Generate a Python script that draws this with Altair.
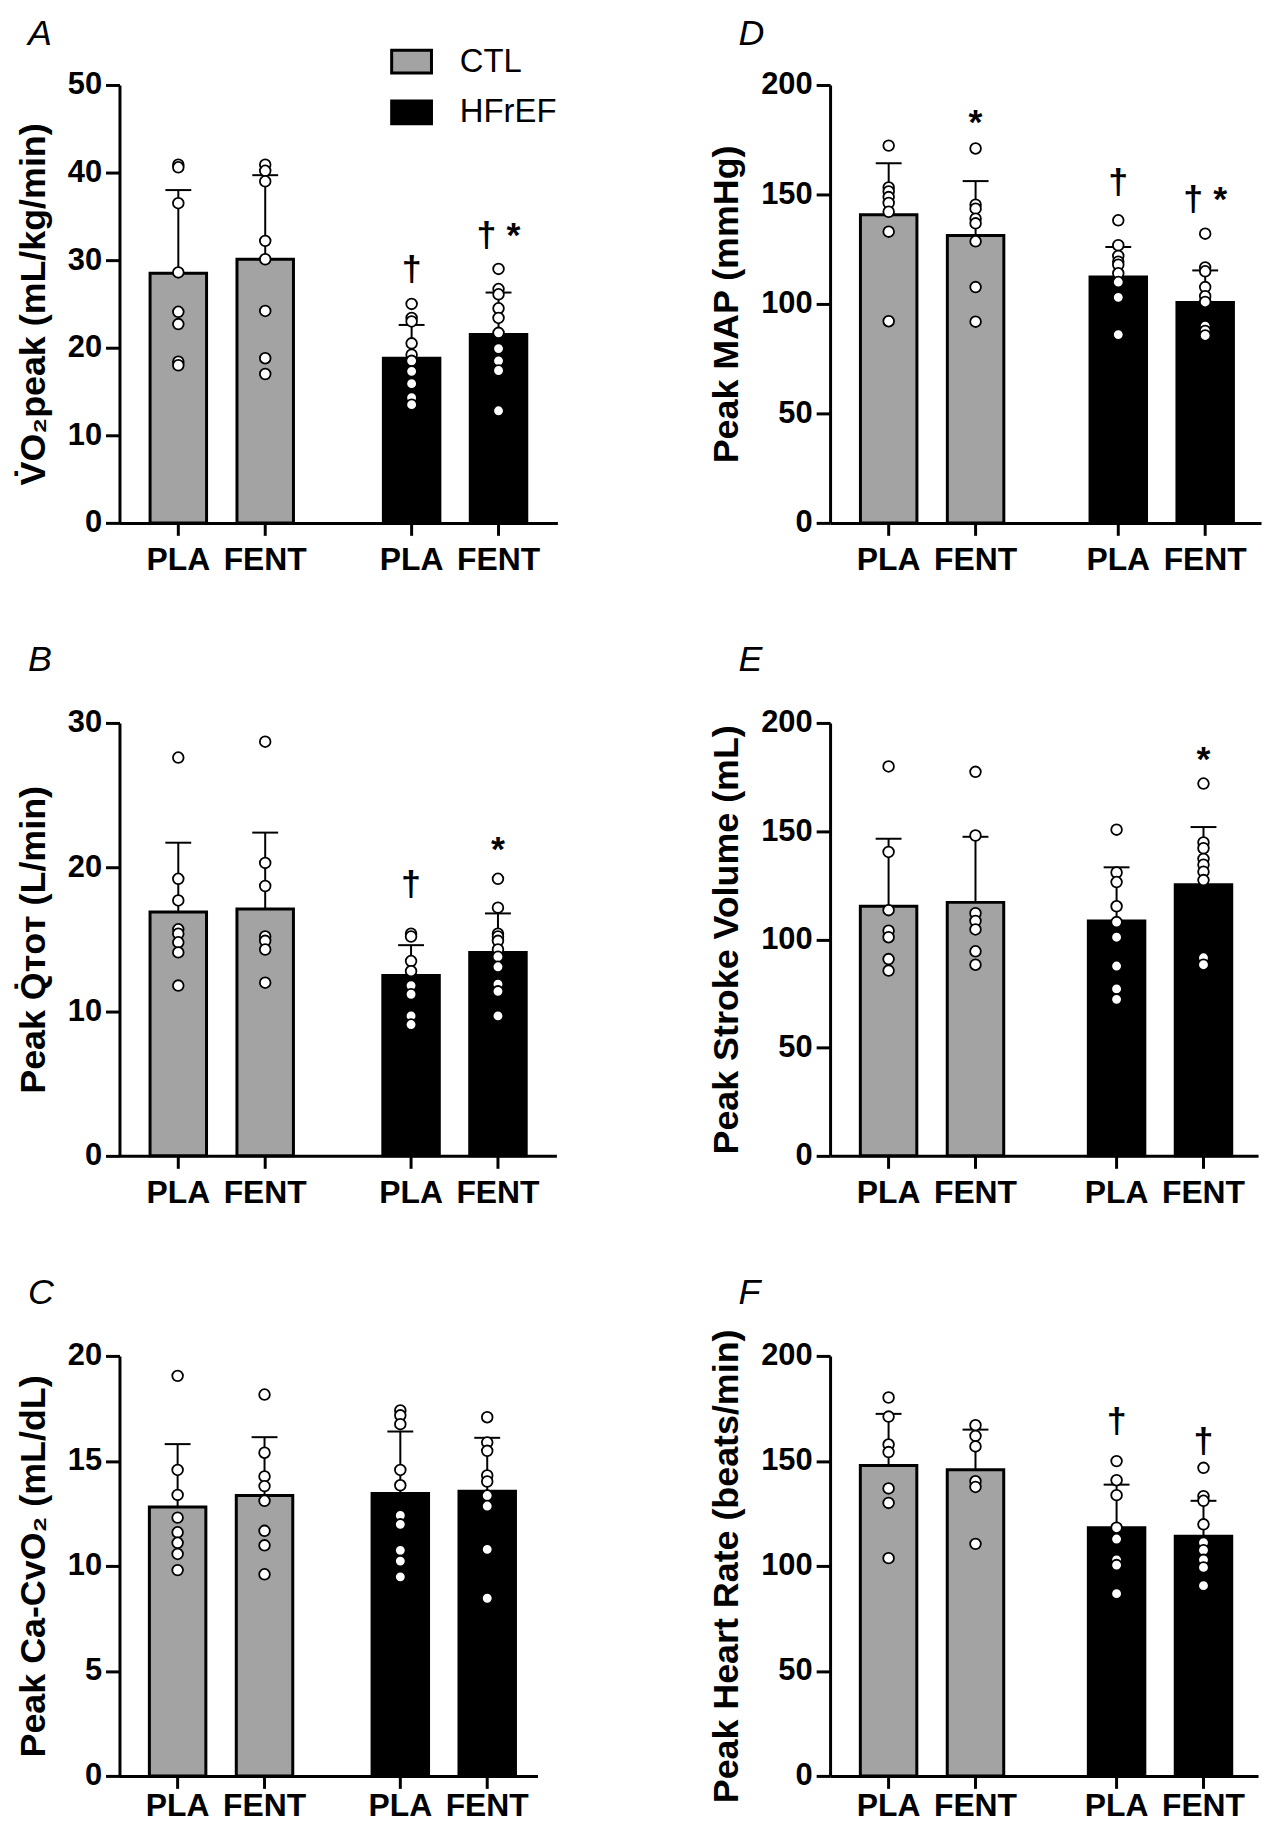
import altair as alt
import pandas as pd

FONT = "Liberation Sans"
GROUPS = ["CTL", "HFrEF"]
CONDS = ["PLA", "FENT"]
GROUP_COLORS = ["#a3a3a3", "#000000"]

# cell order: CTL-PLA, CTL-FENT, HFrEF-PLA, HFrEF-FENT
cell_group = ["CTL", "CTL", "HFrEF", "HFrEF"]
cell_cond = ["PLA", "FENT", "PLA", "FENT"]

# ---- A: VO2peak ----
vo2_mean = [28.5, 30.1, 18.8, 21.5]
vo2_sd = [9.5, 9.6, 3.8, 4.8]
vo2_points = [
    [40.9, 40.6, 36.5, 28.6, 24.1, 22.7, 18.4, 18.0],
    [40.9, 40.2, 39.0, 32.2, 30.1, 24.2, 18.8, 17.0],
    [25.0, 23.4, 23.0, 20.5, 19.2, 18.5, 17.3, 15.9, 14.3, 13.5],
    [29.0, 26.7, 26.1, 24.5, 23.4, 21.7, 19.9, 18.5, 17.4, 12.8],
]
vo2_marks = [("HFrEF", "PLA", "†", 28.9), ("HFrEF", "FENT", "† *", 32.8)]

# ---- D: MAP ----
map_mean = [140.7, 131.2, 112.3, 100.7]
map_sd = [23.5, 24.9, 13.7, 14.6]
map_points = [
    [172.3, 153.2, 151.4, 148.8, 146.1, 142.1, 133.0, 92.1],
    [171.0, 145.3, 143.5, 138.9, 136.8, 128.6, 107.7, 91.9],
    [138.2, 126.8, 121.9, 119.3, 117.9, 114.0, 110.0, 103.0, 86.0],
    [132.1, 116.7, 114.9, 107.7, 103.5, 100.9, 89.8, 87.7, 85.6],
]
map_marks = [("CTL", "FENT", "*", 187.2), ("HFrEF", "PLA", "†", 155.0), ("HFrEF", "FENT", "† *", 147.5)]

# ---- B: Q TOT ----
q_mean = [16.9, 17.1, 12.5, 14.1]
q_sd = [4.8, 5.3, 2.1, 2.7]
q_points = [
    [27.6, 19.2, 17.7, 15.7, 15.4, 14.8, 14.1, 11.8],
    [28.7, 20.3, 18.7, 15.2, 14.9, 14.3, 12.0],
    [15.4, 15.2, 13.5, 12.8, 11.8, 11.2, 9.7, 9.1],
    [19.2, 17.2, 15.4, 15.2, 14.9, 14.3, 13.8, 13.1, 11.9, 11.4, 9.7],
]
q_marks = [("HFrEF", "PLA", "†", 18.75), ("HFrEF", "FENT", "*", 21.9)]

# ---- E: Stroke volume ----
sv_mean = [115.3, 117.1, 108.5, 125.2]
sv_sd = [31.2, 30.3, 24.8, 26.7]
sv_points = [
    [179.9, 140.4, 113.5, 104.0, 101.0, 90.9, 85.6],
    [177.4, 148.0, 112.1, 108.5, 104.6, 94.5, 88.3],
    [150.7, 130.9, 126.5, 115.3, 108.0, 101.0, 87.7, 77.1, 72.3],
    [172.0, 144.8, 142.1, 137.2, 134.5, 131.3, 127.4, 91.5, 88.3],
]
sv_marks = [("HFrEF", "FENT", "*", 187.4)]

# ---- C: Ca-CvO2 ----
cav_mean = [12.8, 13.35, 13.45, 13.55]
cav_sd = [3.0, 2.78, 2.95, 2.55]
cav_points = [
    [19.05, 14.57, 13.38, 12.3, 11.6, 11.1, 10.57, 9.8],
    [18.16, 15.39, 14.26, 13.8, 13.1, 11.67, 10.98, 9.6],
    [17.4, 17.17, 16.75, 14.57, 13.84, 12.4, 11.98, 10.74, 10.23, 9.48],
    [17.08, 15.88, 15.48, 14.31, 14.02, 13.35, 12.85, 10.79, 8.46],
]
cav_marks = []

# ---- F: Heart rate ----
hr_mean = [147.8, 145.8, 118.2, 114.1]
hr_sd = [24.6, 19.1, 20.5, 16.9]
hr_points = [
    [180.2, 171.1, 157.8, 154.2, 136.9, 130.0, 103.7],
    [167.0, 161.9, 156.9, 140.3, 137.6, 110.5],
    [149.9, 140.8, 133.7, 118.2, 112.8, 102.9, 100.4, 86.8],
    [146.7, 133.2, 131.0, 119.8, 111.1, 107.5, 102.9, 99.3, 90.6],
]
hr_marks = [("HFrEF", "PLA", "†", 168.5), ("HFrEF", "FENT", "†", 158.9)]


def panel(mean, sd, points, marks, ytitle, ymax, ystep, letter, width, height,
          letter_y, label_gap=47, legend=False):
    bars_df = pd.DataFrame({
        "group": cell_group, "cond": cell_cond, "mean": mean,
        "upper": [m + s for m, s in zip(mean, sd)],
    })
    pts_df = pd.DataFrame([
        {"group": g, "cond": c, "value": v}
        for g, c, vals in zip(cell_group, cell_cond, points) for v in vals
    ])
    marks_df = pd.DataFrame(marks if marks else [("CTL", "PLA", "", 0.0)],
                            columns=["group", "cond", "text", "y"])

    x = alt.X("group:N", scale=alt.Scale(domain=GROUPS, paddingInner=0.255, paddingOuter=0.066),
              axis=alt.Axis(labels=False, ticks=False, title=None, domainWidth=3))
    xo = alt.XOffset("cond:N", scale=alt.Scale(domain=CONDS, paddingInner=0.35, paddingOuter=0.175))
    yscale = alt.Scale(domain=[0, ymax], nice=False, zero=True)
    yaxis = alt.Axis(values=list(range(0, ymax + 1, ystep)), title=ytitle,
                     labelPadding=4, titlePadding=15)

    if legend:
        leg = alt.Legend(orient="none", legendX=272, legendY=-45, title=None,
                         symbolType="M-1,-0.575H1V0.575H-1Z", symbolSize=1600,
                         symbolStrokeColor="black", symbolStrokeWidth=3, symbolOpacity=1,
                         labelFont=FONT, labelFontSize=33, labelFontWeight="normal",
                         labelColor="black", labelOffset=27, rowPadding=12)
        color = alt.Color("group:N", scale=alt.Scale(domain=GROUPS, range=GROUP_COLORS), legend=leg)
    else:
        color = alt.Color("group:N", scale=alt.Scale(domain=GROUPS, range=GROUP_COLORS), legend=None)

    base = alt.Chart(bars_df)
    bars = base.mark_bar(stroke="black", strokeWidth=3).encode(
        x=x, xOffset=xo, y=alt.Y("mean:Q", scale=yscale, axis=yaxis), color=color)
    err = base.mark_rule(color="black", strokeWidth=2).encode(
        x=x, xOffset=xo, y="mean:Q", y2="upper:Q")
    cap = base.mark_tick(color="black", thickness=2, size=26, opacity=1).encode(
        x=x, xOffset=xo, y="upper:Q")
    dots = alt.Chart(pts_df).mark_circle(color="white", stroke="black", strokeWidth=1.8,
                                         size=115, opacity=1).encode(
        x=x, xOffset=xo, y="value:Q")
    xticks = base.mark_rule(color="black", strokeWidth=3).encode(
        x=x, xOffset=xo, y=alt.value(height), y2=alt.value(height + 13))
    xlabels = base.mark_text(font=FONT, fontSize=32, fontWeight="bold", color="black",
                             baseline="alphabetic", align="center").encode(
        x=x, xOffset=xo, y=alt.value(height + label_gap), text="cond:N")
    ann = alt.Chart(marks_df).transform_filter("datum.text != '*'").mark_text(
        font=FONT, fontSize=36, fontWeight="bold", color="black", baseline="middle").encode(
        x=x, xOffset=xo, y="y:Q", text="text:N")
    star = alt.Chart(marks_df).transform_filter("datum.text == '*'").mark_text(
        font=FONT, fontSize=36, fontWeight="bold", color="black", baseline="middle", dy=10).encode(
        x=x, xOffset=xo, y="y:Q", text="text:N")
    let = alt.Chart(pd.DataFrame({"letter": [letter]})).mark_text(
        font=FONT, fontSize=36, fontStyle="italic", color="black",
        align="left", baseline="alphabetic").encode(
        x=alt.value(-92), y=alt.value(letter_y), text="letter:N")

    return alt.layer(bars, err, cap, dots, xticks, xlabels, ann, star, let).properties(
        width=width, height=height)


pA = panel(vo2_mean, vo2_sd, vo2_points, vo2_marks, "V\u0307O\u2082peak (mL/kg/min)",
           50, 10, "A", 440, 440, -40, legend=True)
pD = panel(map_mean, map_sd, map_points, map_marks, "Peak MAP (mmHg)",
           200, 50, "D", 433, 440, -40)
pB = panel(q_mean, q_sd, q_points, q_marks, "Peak Q\u0307\u1d1b\u1d0f\u1d1b (L/min)",
           30, 10, "B", 439, 435, -52)
pE = panel(sv_mean, sv_sd, sv_points, sv_marks, "Peak Stroke Volume (mL)",
           200, 50, "E", 430, 435, -52)
pC = panel(cav_mean, cav_sd, cav_points, cav_marks, "Peak Ca-CvO\u2082 (mL/dL)",
           20, 5, "C", 420, 422, -52, label_gap=40)
pF = panel(hr_mean, hr_sd, hr_points, hr_marks, "Peak Heart Rate (beats/min)",
           200, 50, "F", 430, 422, -52, label_gap=40)

chart = alt.concat(pA, pD, pB, pE, pC, pF, columns=2,
                   spacing={"row": 201, "column": 274},
                   bounds="flush", align="each").resolve_scale(
    color="independent").resolve_legend(color="independent").properties(
    padding={"left": 7, "top": 4, "right": 5, "bottom": 2}
).configure_view(strokeWidth=0).configure_axis(
    grid=False, domainColor="black", domainWidth=3, tickColor="black", tickWidth=3,
    tickSize=14, labelFont=FONT, labelFontSize=31, labelFontWeight="bold",
    labelColor="black", titleFont=FONT, titleFontSize=36, titleFontWeight="bold",
    titleColor="black")

chart.save("out.html", embed_options={"renderer": "svg", "actions": False})
